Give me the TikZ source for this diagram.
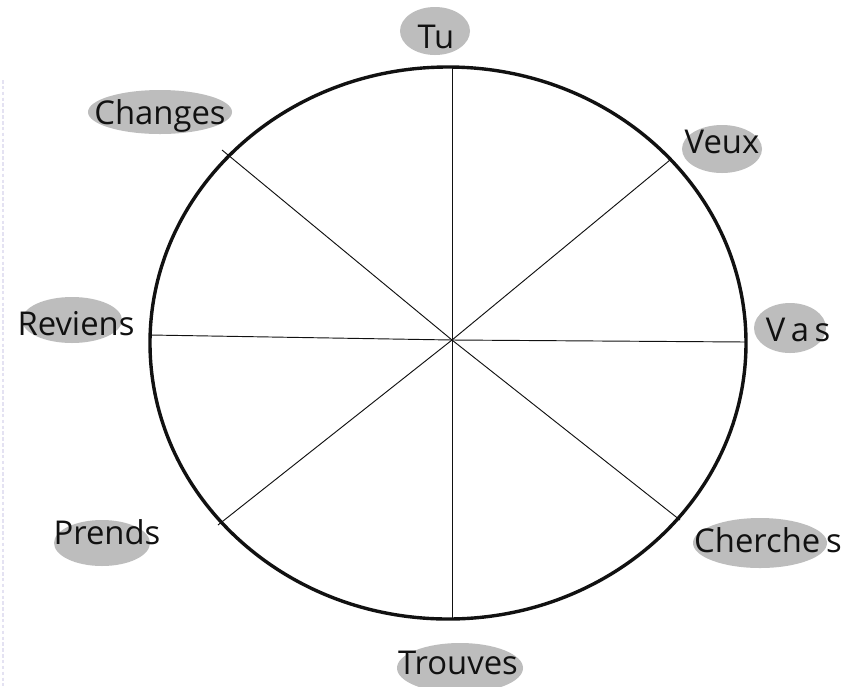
\documentclass[tikz,border=0pt]{standalone}
\usepackage{fontspec}
\setmainfont{Open Sans}
\usetikzlibrary{positioning}
\definecolor{wheelInk}{HTML}{111111}
\definecolor{wheelBlob}{HTML}{BDBDBD}
\definecolor{wheelEdge}{HTML}{E4E2F2}
\tikzset{
  every picture/.style={font=\fontsize{28}{30}\selectfont, text=wheelInk},
  wheel rim/.style={draw=wheelInk, line width=2.9pt},
  wheel spoke/.style={draw=wheelInk, line width=0.8pt},
  wheel blob/.style={fill=wheelBlob},
  wheel word/.style={inner sep=0pt, anchor=center}
}

\begin{document}
\begin{tikzpicture}[x=0.03cm,y=-0.03cm]
  \useasboundingbox (0,0) rectangle (861,686);
  \fill[white] (0,0) rectangle (861,686);
  \draw[wheelEdge, line width=1.2pt, dash pattern=on 3pt off 2pt] (3,80) -- (3,686);

  % highlight blobs behind the words
  \fill[wheel blob] (435,31) ellipse [x radius=35, y radius=24];
  \fill[wheel blob] (160,112) ellipse [x radius=72, y radius=22];
  \fill[wheel blob] (722,149) ellipse [x radius=40, y radius=24];
  \fill[wheel blob] (72,320) ellipse [x radius=50, y radius=23];
  \fill[wheel blob] (790,328) ellipse [x radius=36, y radius=25];
  \fill[wheel blob] (102,543) ellipse [x radius=48, y radius=23];
  \fill[wheel blob] (760,543) ellipse [x radius=67, y radius=25];
  \fill[wheel blob] (460,668) ellipse [x radius=63, y radius=25];

  % wheel
  \coordinate (hub) at (452,340);
  \coordinate (rimN) at (452,67);
  \coordinate (rimS) at (452,619);
  \coordinate (rimW) at (150,335);
  \coordinate (rimE) at (746,342);
  \coordinate (rimNE) at (670,160);
  \coordinate (rimSW) at (218,525);
  \coordinate (rimNW) at (222,150);
  \coordinate (rimSE) at (680,520);
  \foreach \r in {rimN,rimS,rimW,rimE,rimNE,rimSW,rimNW,rimSE}{
    \draw[wheel spoke] (hub) -- (\r);
  }
  \draw[wheel rim] (448,343) ellipse [x radius=298, y radius=276];

  % words
  \node[wheel word] (tu) at (436,37) {Tu};
  \node[wheel word] (changes) at (160,116) {Changes};
  \node[wheel word] (veux) at (722,142) {Veux};
  \node[wheel word] (reviens) at (76,324) {Reviens};
  \node[wheel word] (vas) at (798,330) {V\,a\,s};
  \node[wheel word] (prends) at (107,532) {Prends};
  \node[wheel word] (cherches) at (768,540) {Cherche\hspace{5pt}s};
  \node[wheel word] (trouves) at (458,663) {Trouves};
\end{tikzpicture}
\end{document}
